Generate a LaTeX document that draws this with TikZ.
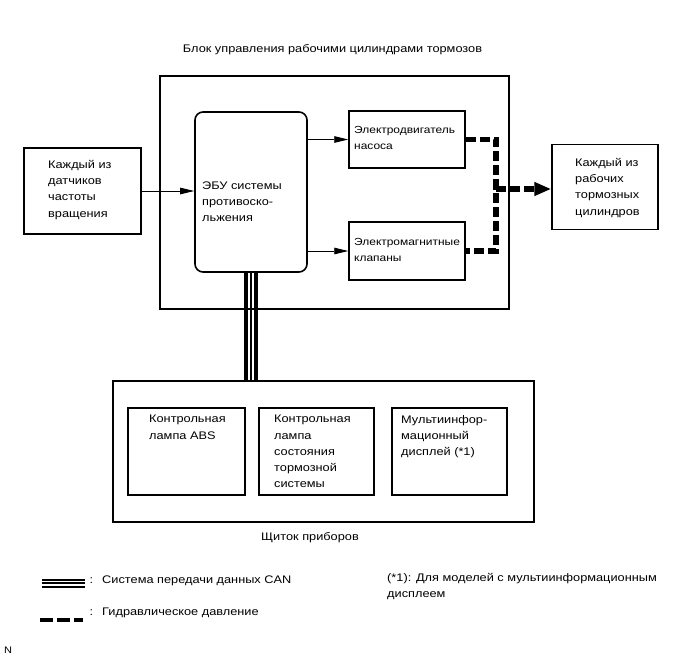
\documentclass[tikz,border=0pt]{standalone}
\usepackage{fontspec}
\setmainfont{Liberation Sans}[FakeStretch=1.16]
\usetikzlibrary{arrows.meta,backgrounds}
\begin{document}
\begin{tikzpicture}[x=1pt,y=-1pt,
  font=\fontsize{11}{16.3}\selectfont,
  boxs/.style={draw, line width=1.5pt, inner sep=0pt},
  txt/.style={anchor=north west, inner sep=0pt, align=left},
  narrowtxt/.style={txt, font=\fontsize{10.3}{16.3}\selectfont},
  arr/.style={line width=0.9pt, -{Triangle[length=14pt,width=6.5pt]}},
  hyd/.style={line width=5.5pt, dash pattern=on 10pt off 4pt},
  lbl/.style={anchor=base, inner sep=0pt}]
\useasboundingbox (0,0) rectangle (690,659);

% title
\node[lbl] (title) at (332.5,52) {Блок управления рабочими цилиндрами тормозов};

% boxes
\node[boxs, minimum width=349pt, minimum height=233pt] (outer) at (334.5,192.5) {};
\node[boxs, minimum width=117pt, minimum height=86pt] (sens) at (82.5,191) {};
\node[boxs, rounded corners=8pt, line width=1.6pt, minimum width=112pt, minimum height=160pt] (ecu) at (251,192) {};
\node[boxs, minimum width=116pt, minimum height=57pt] (pump) at (407,139.5) {};
\node[boxs, minimum width=116pt, minimum height=58pt] (valve) at (407,251) {};
\node[boxs, minimum width=106pt, minimum height=85pt] (wheel) at (605,187) {};
\node[boxs, minimum width=421pt, minimum height=141pt] (cluster) at (323.5,451.5) {};
\node[boxs, minimum width=117pt, minimum height=87pt] (lamp1) at (186.5,451.5) {};
\node[boxs, minimum width=115pt, minimum height=87pt] (lamp2) at (316.5,451.5) {};
\node[boxs, minimum width=115pt, minimum height=87pt] (disp) at (449.5,451.5) {};

% texts
\node[txt] (sensT) at (48,160) {Каждый из\\датчиков\\частоты\\вращения};
\node[txt] (wheelT) at (575,158) {Каждый из\\рабочих\\тормозных\\цилиндров};
\node[txt] (ecuT) at (202,181.5) {ЭБУ системы\\противоско-\\льжения};
\node[narrowtxt] (pumpT) at (354,126) {Электродвигатель\\насоса};
\node[narrowtxt] (valveT) at (354,238) {Электромагнитные\\клапаны};
\node[txt] (lamp1T) at (149,415) {Контрольная\\лампа ABS};
\node[txt] (lamp2T) at (274,415) {Контрольная\\лампа\\состояния\\тормозной\\системы};
\node[txt] (dispT) at (401,415) {Мультиинфор-\\мационный\\дисплей (*1)};
\node[lbl] (clusterT) at (310,540) {Щиток приборов};

% signal arrows
\draw[arr] (sens.east) -- (sens.east -| ecu.west);
\draw[arr] (ecu.east |- pump.west) -- (pump.west);
\draw[arr] (ecu.east |- valve.west) -- (valve.west);

% hydraulic
\coordinate (jn) at (496,189);
\draw[hyd] (pump.east) -| (jn) |- (valve.east);
\draw[hyd, -{Triangle[length=17pt,width=13pt]}] (jn) -- (jn -| wheel.west);

% CAN
\begin{pgfonlayer}{background}
\fill[white] (0,0) rectangle (690,659);
\draw[line width=14pt] (ecu.south) -- (ecu.south |- cluster.north);
\draw[line width=6pt, white] (ecu.south) -- (ecu.south |- cluster.north);
\draw[line width=2pt] (ecu.south) -- (ecu.south |- cluster.north);
\end{pgfonlayer}

% legend
\coordinate (canA) at (42,583);
\coordinate (canB) at (85,583);
\draw[line width=9pt] (canA) -- (canB);
\draw[line width=5pt, white] (canA) -- (canB);
\draw[line width=1.3pt] (canA) -- (canB);
\node[anchor=base west, inner sep=0pt] (canT) at (89.5,583) {:\hspace{9pt}Система передачи данных CAN};

\coordinate (hA) at (40,620);
\coordinate (hB) at (83,620);
\draw[line width=4.6pt, dash pattern=on 13pt off 4pt] (hA) -- (hB);
\node[anchor=base west, inner sep=0pt] (hT) at (89.5,615.5) {:\hspace{9pt}Гидравлическое давление};

\node[txt] (noteT) at (387,573) {(*1): Для моделей с мультиинформационным\\дисплеем};

\node[anchor=base west, inner sep=0pt, font=\fontsize{9.5}{11}\selectfont] (nT) at (4,653) {N};
\end{tikzpicture}
\end{document}
